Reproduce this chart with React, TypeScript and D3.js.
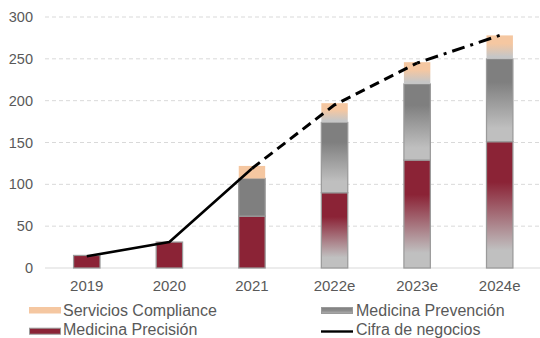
import React from "react";
import * as d3 from "d3";

const categories = ["2019", "2020", "2021", "2022e", "2023e", "2024e"];
const medicinaPrecision = [15, 31, 62, 90, 129, 151];
const medicinaPrevencion = [0, 0, 45, 84, 91, 99];
const serviciosCompliance = [0, 0, 15, 23, 26, 28];
const cifraNegocios = [14, 31, 119, 195, 245, 278];
const yTicks = [0, 50, 100, 150, 200, 250, 300];

const seriesKeys = ["precision", "prevencion", "compliance"] as const;

const W = 540;
const H = 338;
const FONT = "'Liberation Sans', Arial, sans-serif";
const TEXT = "#595959";

const RED = "#8B2336";
const GRAY = "#7F7F7F";
const PEACH = "#F5C7A1";
const LIGHT = "#C0C0C0";

export default function App() {
  const x = d3
    .scaleBand<string>()
    .domain(categories)
    .range([45.5, 541])
    .paddingInner(0.68)
    .paddingOuter(0.34);
  const y = d3.scaleLinear().domain([0, 300]).range([268, 17]);

  const rows = categories.map((c, i) => ({
    cat: c,
    precision: medicinaPrecision[i],
    prevencion: medicinaPrevencion[i],
    compliance: serviciosCompliance[i],
  }));
  const stacked = d3.stack<any>().keys(seriesKeys as any)(rows);

  const cx = (c: string) => (x(c) as number) + x.bandwidth() / 2;
  const isEstimate = (c: string) => c.endsWith("e");

  const line = d3
    .line<number>()
    .x((_, i) => cx(categories[i]))
    .y((d) => y(d));

  // actual years drawn solid, projections dashed, last step dash-dot
  const solidPath = line(cifraNegocios.slice(0, 3)) || "";
  const dashPath = line.x((_, i) => cx(categories[i + 2]))(cifraNegocios.slice(2, 5)) || "";
  const dashDotPath = line.x((_, i) => cx(categories[i + 4]))(cifraNegocios.slice(4, 6)) || "";

  const fillFor = (key: string, c: string) => {
    if (!isEstimate(c)) {
      return key === "precision" ? RED : key === "prevencion" ? GRAY : PEACH;
    }
    return `url(#grad-${key})`;
  };

  return (
    <svg
      width={W}
      height={H}
      style={{ position: "absolute", left: 0, top: 0, background: "#fff" }}
      fontFamily={FONT}
    >
      <defs>
        <linearGradient id="grad-precision" x1="0" y1="0" x2="0" y2="1">
          <stop offset="0" stopColor={RED} />
          <stop offset="0.32" stopColor={RED} />
          <stop offset="0.86" stopColor={LIGHT} />
          <stop offset="1" stopColor={LIGHT} />
        </linearGradient>
        <linearGradient id="grad-prevencion" x1="0" y1="0" x2="0" y2="1">
          <stop offset="0" stopColor={GRAY} />
          <stop offset="0.28" stopColor={GRAY} />
          <stop offset="0.84" stopColor="#BFBFBF" />
          <stop offset="1" stopColor="#BFBFBF" />
        </linearGradient>
        <linearGradient id="grad-compliance" x1="0" y1="0" x2="0" y2="1">
          <stop offset="0" stopColor={PEACH} />
          <stop offset="0.35" stopColor={PEACH} />
          <stop offset="0.9" stopColor="#C6C6C6" />
          <stop offset="1" stopColor="#C6C6C6" />
        </linearGradient>
        <linearGradient id="grad-legend-gray" x1="0" y1="0" x2="0" y2="1">
          <stop offset="0" stopColor={GRAY} />
          <stop offset="0.5" stopColor="#8C8C8C" />
          <stop offset="1" stopColor="#B0B0B0" />
        </linearGradient>
      </defs>

      {/* gridlines */}
      {yTicks.slice(1).map((t) => (
        <line
          key={t}
          x1={45}
          x2={540}
          y1={y(t)}
          y2={y(t)}
          stroke="#D9D9D9"
          strokeWidth={1}
          strokeDasharray="4,3"
        />
      ))}
      <line x1={45} x2={540} y1={y(0)} y2={y(0)} stroke="#D9D9D9" strokeWidth={1} />

      {/* y tick labels */}
      {yTicks.map((t) => (
        <text key={t} x={33} y={y(t) + 5} textAnchor="end" fontSize={14.5} fill={TEXT}>
          {t}
        </text>
      ))}

      {/* x labels */}
      {categories.map((c) => (
        <text key={c} x={cx(c)} y={291} textAnchor="middle" fontSize={15} fill={TEXT}>
          {c}
        </text>
      ))}

      {/* stacked bars */}
      {stacked.map((s) => (
        <g key={s.key}>
          {s.map((d, i) => {
            const c = categories[i];
            const h = y(d[0]) - y(d[1]);
            if (h <= 0) return null;
            const bordered = s.key !== "compliance";
            return (
              <rect
                key={c}
                x={x(c)}
                y={y(d[1])}
                width={x.bandwidth()}
                height={h}
                fill={fillFor(s.key, c)}
                stroke={bordered ? "#9A9A9A" : "none"}
                strokeWidth={bordered ? 1.25 : 0}
              />
            );
          })}
        </g>
      ))}

      {/* Cifra de negocios */}
      <path d={solidPath} fill="none" stroke="#000" strokeWidth={2.6} strokeLinejoin="round" />
      <path d={dashPath} fill="none" stroke="#000" strokeWidth={3} strokeDasharray="10,6" />
      <path d={dashDotPath} fill="none" stroke="#000" strokeWidth={3} strokeDasharray="3,6,13,6" />

      {/* legend */}
      <g fontSize={16} fill={TEXT}>
        <rect x={29} y={307} width={32} height={6.5} fill={PEACH} />
        <text x={63} y={315.5} fill={TEXT}>Servicios Compliance</text>

        <rect x={29.5} y={328.2} width={31} height={6} fill={RED} stroke="#9A9A9A" strokeWidth={1} />
        <text x={63} y={334.5} fill={TEXT}>Medicina Precisión</text>

        <rect x={321.5} y={307.5} width={31} height={6} fill="url(#grad-legend-gray)" stroke="#9A9A9A" strokeWidth={1} />
        <text x={356} y={315.5} fill={TEXT}>Medicina Prevención</text>

        <line x1={321} x2={353} y1={331.5} y2={331.5} stroke="#000" strokeWidth={2.4} />
        <text x={356} y={334.5} fill={TEXT}>Cifra de negocios</text>
      </g>
    </svg>
  );
}
